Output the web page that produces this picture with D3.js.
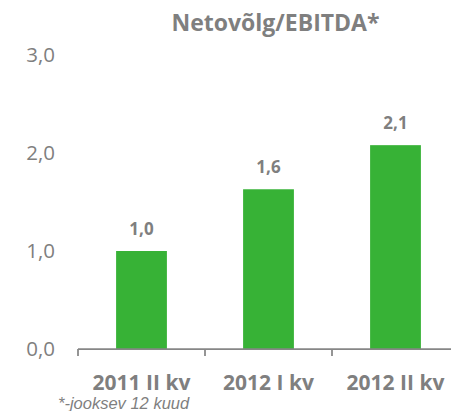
<!DOCTYPE html>
<html>
<head>
<meta charset="utf-8">
<script src="https://cdn.jsdelivr.net/npm/d3@7"></script>
<style>
  body { margin: 0; background: #fff; }
  text { font-family: "Open Sans", "Liberation Sans", sans-serif; fill: #7f7f7f; }
</style>
</head>
<body>
<div id="chart"></div>
<script>
// chart data
var categories = ["2011 II kv", "2012 I kv", "2012 II kv"];
var values = [1.0, 1.63, 2.08];
var yTicks = [0, 1, 2, 3];

var width = 451, height = 411;

var svg = d3.select("#chart").append("svg")
    .attr("width", width)
    .attr("height", height);

// scales
var x = d3.scaleBand()
    .domain(categories)
    .range([78, 459])
    .paddingInner(0.6)
    .paddingOuter(0.3);

var y = d3.scaleLinear()
    .domain([0, 3])
    .range([349, 55]);

var fmt = function(v) { return d3.format(".1f")(v).replace(".", ","); };

// title
svg.append("text")
    .attr("x", 275.5)
    .attr("y", 31)
    .attr("text-anchor", "middle")
    .style("font-size", "23px")
    .style("font-weight", "bold")
    .text("Netovõlg/EBITDA*");

// y axis labels only
var ya = svg.append("g")
    .attr("transform", "translate(55,0)")
    .call(d3.axisLeft(y).tickValues(yTicks).tickSize(0).tickPadding(0).tickFormat(fmt));
ya.select(".domain").remove();
ya.selectAll("text")
    .style("font-size", "20.5px")
    .style("font-family", "\"Open Sans\", sans-serif")
    .attr("fill", "#7f7f7f");

// bars
svg.selectAll(".bar")
    .data(values)
  .enter().append("rect")
    .attr("class", "bar")
    .attr("x", function(d, i) { return x(categories[i]); })
    .attr("width", x.bandwidth())
    .attr("y", function(d) { return y(d); })
    .attr("height", function(d) { return y(0) - y(d); })
    .attr("fill", "#37b236");

// value labels
svg.selectAll(".val")
    .data(values)
  .enter().append("text")
    .attr("class", "val")
    .attr("x", function(d, i) { return x(categories[i]) + x.bandwidth() / 2; })
    .attr("y", function(d) { return y(d) - 16; })
    .attr("text-anchor", "middle")
    .style("font-size", "17px")
    .style("font-weight", "bold")
    .text(function(d) { return fmt(d); });

// x axis line with ticks between categories
var step = x.step();
var x0 = x(categories[0]) - step * x.paddingOuter();
svg.append("line")
    .attr("x1", x0).attr("x2", width)
    .attr("y1", y(0)).attr("y2", y(0))
    .attr("stroke", "#868686")
    .attr("stroke-width", 1.75);

svg.selectAll(".xtick")
    .data(d3.range(categories.length + 1))
  .enter().append("line")
    .attr("class", "xtick")
    .attr("x1", function(i) { return x0 + i * step; })
    .attr("x2", function(i) { return x0 + i * step; })
    .attr("y1", y(0))
    .attr("y2", y(0) + 7)
    .attr("stroke", "#868686")
    .attr("stroke-width", 1.75);

// category labels
var xa = svg.append("g")
    .attr("transform", "translate(0," + y(0) + ")")
    .call(d3.axisBottom(x).tickSize(0).tickPadding(0));
xa.select(".domain").remove();
xa.selectAll("text")
    .attr("dy", 0)
    .attr("y", 41)
    .attr("fill", "#7f7f7f")
    .style("font-size", "21px")
    .style("font-weight", "bold")
    .style("font-family", "\"Open Sans\", sans-serif");

// footnote
svg.append("text")
    .attr("x", 58)
    .attr("y", 409)
    .style("font-size", "16.5px")
    .style("font-style", "italic")
    .style("font-family", "\"Liberation Sans\", Arial, sans-serif")
    .text("*-jooksev 12 kuud");
</script>
</body>
</html>
